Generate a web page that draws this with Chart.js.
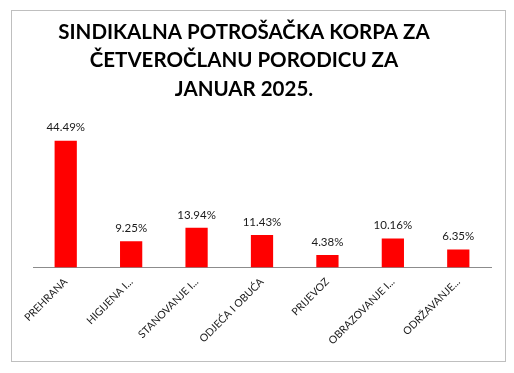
<!DOCTYPE html>
<html><head><meta charset="utf-8">
<script src="https://cdn.jsdelivr.net/npm/chart.js@4/dist/chart.umd.min.js"></script>
<style>html,body{margin:0;padding:0;background:#fff}#wrap{width:514px;height:373px;position:relative}</style>
</head><body><div id="wrap"><canvas id="c" width="514" height="373"></canvas></div>
<script>
const titleLines = ["SINDIKALNA POTROŠAČKA KORPA ZA", "ČETVEROČLANU PORODICU ZA", "JANUAR 2025."];
const categories = ["PREHRANA", "HIGIJENA I...", "STANOVANJE I...", "ODJEĆA I OBUĆA", "PRIJEVOZ", "OBRAZOVANJE I...", "ODRŽAVANJE..."];
const values = [44.49, 9.25, 13.94, 11.43, 4.38, 10.16, 6.35];
const valueLabels = ["44.49%", "9.25%", "13.94%", "11.43%", "4.38%", "10.16%", "6.35%"];

const frame = {
  id: 'frame',
  beforeDraw(chart) {
    const ctx = chart.ctx;
    ctx.save();
    ctx.fillStyle = '#fff';
    ctx.fillRect(0, 0, chart.width, chart.height);
    ctx.strokeStyle = '#bfbfbf';
    ctx.lineWidth = 1;
    ctx.strokeRect(11.5, 10.5, 494, 351);
    ctx.fillStyle = '#000';
    ctx.font = 'bold 20.5px Lato';
    ctx.textAlign = 'center';
    ctx.textBaseline = 'middle';
    const ys = [32, 60, 89];
    titleLines.forEach((t, i) => ctx.fillText(t, 244, ys[i]));
    ctx.restore();
  },
  afterDatasetsDraw(chart) {
    const ctx = chart.ctx;
    const meta = chart.getDatasetMeta(0);
    ctx.save();
    ctx.fillStyle = '#1a1a1a';
    ctx.font = '11.5px Lato';
    ctx.textAlign = 'center';
    ctx.textBaseline = 'middle';
    meta.data.forEach((bar, i) => ctx.fillText(valueLabels[i], bar.x, bar.y - 13));
    ctx.restore();
  }
};

new Chart(document.getElementById('c'), {
  type: 'bar',
  data: { labels: categories, datasets: [{ data: values, backgroundColor: '#ff0000', borderWidth: 0, categoryPercentage: 1, barPercentage: 0.34 }] },
  options: {
    responsive: false, animation: false,
    layout: { padding: { left: 33, right: 23, top: 125, bottom: 18 } },
    plugins: { legend: { display: false }, tooltip: { enabled: false }, title: { display: false } },
    scales: {
      y: { display: false, min: 0, max: 50 },
      x: {
        grid: { display: false, drawTicks: false },
        border: { display: true, color: '#8c8c8c', width: 1 },
        ticks: { color: '#1a1a1a', font: { family: 'Lato', size: 10.5 }, minRotation: 45, maxRotation: 45, padding: 8, autoSkip: false }
      }
    }
  },
  plugins: [frame]
});
</script></body></html>
